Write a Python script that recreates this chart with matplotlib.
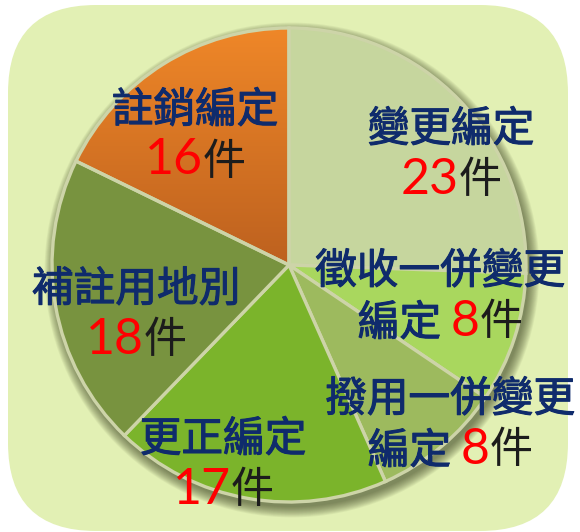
import numpy as np
import matplotlib.pyplot as plt
import matplotlib.patheffects as pe
from matplotlib.patches import FancyBboxPatch, Circle
from matplotlib.colors import LinearSegmentedColormap
from matplotlib.offsetbox import TextArea, HPacker, AnnotationBbox

# 資料
categories = ['變更編定', '徵收一併變更編定', '撥用一併變更編定', '更正編定', '補註用地別', '註銷編定']
counts = [23, 8, 8, 17, 18, 16]
label_top = ['變更編定', '徵收一併變更', '撥用一併變更', '更正編定', '補註用地別', '註銷編定']
label_prefix = ['', '編定 ', '編定 ', '', '', '']
colors = ['#c6d69e', '#a9d75e', '#9dba5e', '#7bb42b', '#78933f', '#e07a25']

# 版面 (像素)
W, H = 580, 532
cx, cy, R = 289, 265, 237
label_pos = [(451, 130), (440, 272), (450, 400), (223, 440), (136, 290), (195, 111)]
line_gap = 50

CJK = ['Noto Sans CJK TC', 'DejaVu Sans']
NUM = ['Liberation Sans Narrow', 'Lato', 'DejaVu Sans']
NAVY = '#0f2b6c'
plt.rcParams['font.family'] = CJK
thick = [pe.Stroke(linewidth=0.8, foreground=NAVY), pe.Normal()]

fig = plt.figure(figsize=(W / 100, H / 100), dpi=100)
fig.patch.set_facecolor('white')
ax = fig.add_axes([0, 0, 1, 1])

# 背景圓角框
bg = FancyBboxPatch((8, 5), 560, 526, boxstyle='round,pad=0,rounding_size=88',
                    fc='#e2f0b4', ec='none', zorder=0.1)
ax.add_patch(bg)

# 圓餅陰影
for k in range(14):
    ax.add_patch(Circle((cx + 3, cy + 5), R + k * 0.8, fc='#3d4424', ec='none',
                        alpha=0.06, zorder=0.5))

wedges, _ = ax.pie(counts, colors=colors, startangle=-90, counterclock=True,
                   center=(cx, cy), radius=R, explode=[0.02, 0, 0, 0, 0, 0],
                   frame=True,
                   wedgeprops=dict(edgecolor='#cdd4a8', linewidth=2.4))

# 註銷編定 漸層
orange = wedges[5]
bb = orange.get_path().get_extents(orange.get_patch_transform())
cmap = LinearSegmentedColormap.from_list('org', ['#ef8728', '#bd611f'])
grad = np.linspace(0, 1, 256).reshape(-1, 1)
im = ax.imshow(grad, cmap=cmap, aspect='auto', zorder=0.9,
               extent=(bb.x0, bb.x1, bb.y1, bb.y0))
im.set_clip_path(orange)
orange.set_facecolor('none')

# 標籤
for i in range(len(counts)):
    x, y = label_pos[i]
    ax.text(x, y, label_top[i], ha='center', va='center', fontsize=30,
            color=NAVY, zorder=5, path_effects=thick)
    parts = []
    if label_prefix[i]:
        parts.append(TextArea(label_prefix[i], textprops=dict(
            fontsize=30, color=NAVY, family=CJK, path_effects=thick)))
    parts.append(TextArea(str(counts[i]), textprops=dict(
        fontsize=36, color='#ff0000', family=NUM)))
    parts.append(TextArea('件', textprops=dict(
        fontsize=31, color='#1c1c1c', family=CJK)))
    box = HPacker(children=parts, align='baseline', pad=0, sep=0)
    ab = AnnotationBbox(box, (x, y + line_gap), frameon=False,
                        box_alignment=(0.5, 0.5), pad=0, zorder=5)
    ax.add_artist(ab)

ax.set_xlim(0, W)
ax.set_ylim(H, 0)
ax.set_aspect('auto')
ax.axis('off')

fig.savefig('out.png', dpi=100)
